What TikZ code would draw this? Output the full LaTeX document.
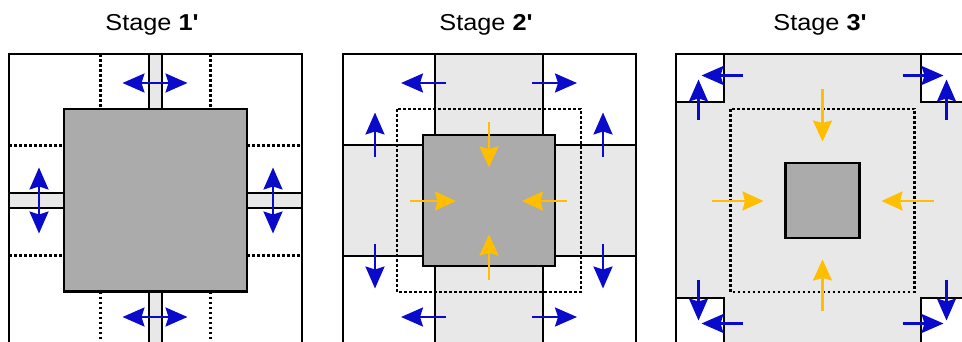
\documentclass[tikz,border=0pt]{standalone}
\usepackage{fontspec}
\setmainfont{Liberation Sans}
\usetikzlibrary{arrows.meta}

\definecolor{coregray}{HTML}{ABABAB}
\definecolor{palegray}{HTML}{E8E8E8}
\definecolor{arrblue}{HTML}{0A0ACB}
\definecolor{arrorange}{HTML}{FFBE00}

\tikzset{
  frame/.style={draw=black, line width=2pt},
  core/.style={draw=black, line width=2.4pt, fill=coregray},
  strip/.style={draw=black, line width=1.8pt, fill=palegray},
  gridline/.style={draw=black, line width=2pt},
  dots/.style={draw=black, line width=2.4pt, dash pattern=on 2.6pt off 2.4pt},
  bluearr/.style={draw=arrblue, line width=2.4pt, -{Stealth[length=22pt,width=19pt,inset=3pt]}},
  bluedbl/.style={draw=arrblue, line width=2.4pt, {Stealth[length=22pt,width=19pt,inset=3pt]}-{Stealth[length=22pt,width=19pt,inset=3pt]}},
  orarr/.style={draw=arrorange, line width=2.2pt, -{Stealth[length=21pt,width=19pt,inset=2.5pt]}},
  title/.style={anchor=base, font=\fontsize{23}{27}\selectfont, xscale=1.1, inner sep=0pt},
}

\begin{document}
\begin{tikzpicture}[x=1pt, y=-1pt]
\useasboundingbox (0,0) rectangle (962,342);
\clip (0,0) rectangle (962,342);
\fill[white] (0,0) rectangle (962,342);

% titles
\node[title] (t1) at (152,31) {Stage \textbf{1\textquotesingle}};
\node[title] (t2) at (486,31) {Stage \textbf{2\textquotesingle}};
\node[title] (t3) at (820,31) {Stage \textbf{3\textquotesingle}};

% ---- stage 1: thin gaps open round the block
\begin{scope}[shift={(155.5,200.5)}]
  \draw[strip] (-6.5,-146.5) rectangle (6.5,-91);
  \draw[strip] (-6.5,91) rectangle (6.5,150);
  \draw[strip] (-146.5,-7.5) rectangle (-91.5,7.5);
  \draw[strip] (91.5,-7.5) rectangle (146.5,7.5);
  \draw[dots] (-55,-146.5) -- (-55,-91) (55,-146.5) -- (55,-91);
  \draw[dots] (-55,91) -- (-55,150) (55,91) -- (55,150);
  \draw[dots] (-146.5,-55) -- (-91.5,-55) (-146.5,55) -- (-91.5,55);
  \draw[dots] (91.5,-55) -- (146.5,-55) (91.5,55) -- (146.5,55);
  \draw[frame] (-146.5,-146.5) rectangle (146.5,146.5);
  \draw[core] (-91.5,-91.5) rectangle (91.5,91);
  \draw[bluedbl] (-33,-117.5) -- (32,-117.5);
  \draw[bluedbl] (-33,116.5) -- (32,116.5);
  \draw[bluedbl] (-116.5,-33) -- (-116.5,33);
  \draw[bluedbl] (117.5,-33) -- (117.5,33);
\end{scope}

% ---- stage 2: cross of gaps, block shrinking
\begin{scope}[shift={(489,200.5)}]
  \fill[palegray] (-54,-146.5) rectangle (54,146.5);
  \fill[palegray] (-146.5,-55) rectangle (146.5,55);
  \draw[gridline] (-54,-146.5) -- (-54,146.5) (54,-146.5) -- (54,146.5);
  \draw[gridline] (-146.5,-55) -- (146.5,-55) (-146.5,55) -- (146.5,55);
  \draw[frame] (-146.5,-146.5) rectangle (146.5,146.5);
  \draw[dots] (-92,-91.5) rectangle (92,91.5);
  \draw[core] (-66,-65.5) rectangle (66,65.5);
  \draw[bluearr] (-43,-117.5) -- (-88,-117.5);
  \draw[bluearr] (43,-117.5) -- (88,-117.5);
  \draw[bluearr] (-43,116.5) -- (-88,116.5);
  \draw[bluearr] (43,116.5) -- (88,116.5);
  \draw[bluearr] (-114,-43) -- (-114,-88);
  \draw[bluearr] (114,-43) -- (114,-88);
  \draw[bluearr] (-114,43) -- (-114,88);
  \draw[bluearr] (114,43) -- (114,88);
  \draw[orarr] (0,-78) -- (0,-33);
  \draw[orarr] (0,79) -- (0,34);
  \draw[orarr] (-79,0.5) -- (-33,0.5);
  \draw[orarr] (78,0.5) -- (33,0.5);
\end{scope}

% ---- stage 3: small block, white corner cells
\begin{scope}[shift={(822.5,200.5)}]
  \fill[palegray] (-146.5,-146.5) rectangle (146.5,146.5);
  \draw[gridline, fill=white] (-146.5,-146.5) rectangle (-98.5,-98.5);
  \draw[gridline, fill=white] (98.5,-146.5) rectangle (146.5,-98.5);
  \draw[gridline, fill=white] (-146.5,97.5) rectangle (-98.5,146.5);
  \draw[gridline, fill=white] (98.5,97.5) rectangle (146.5,146.5);
  \draw[frame] (-146.5,-146.5) rectangle (146.5,146.5);
  \draw[dots] (-92,-91.5) rectangle (92,91.5);
  \draw[core] (-37,-37.5) rectangle (37,37.5);
  \draw[orarr] (0,-111) -- (0,-59);
  \draw[orarr] (0,110) -- (0,59);
  \draw[orarr] (-111,0.5) -- (-59,0.5);
  \draw[orarr] (111,0.5) -- (59,0.5);
  \draw[bluearr] (-80,-125) -- (-121,-125);
  \draw[bluearr] (-124,-80) -- (-124,-121);
  \draw[bluearr] (80,-125) -- (121,-125);
  \draw[bluearr] (124,-80) -- (124,-121);
  \draw[bluearr] (-80,123) -- (-121,123);
  \draw[bluearr] (-124,79) -- (-124,120);
  \draw[bluearr] (80,123) -- (121,123);
  \draw[bluearr] (124,79) -- (124,120);
\end{scope}
\end{tikzpicture}
\end{document}
